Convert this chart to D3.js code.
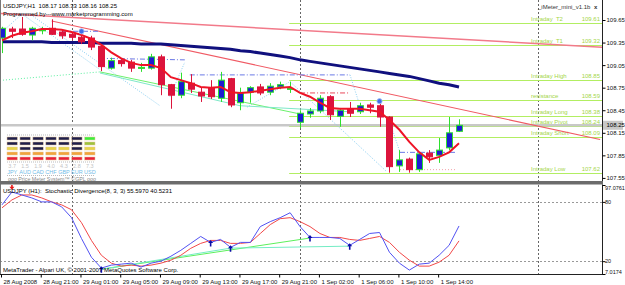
<!DOCTYPE html>
<html>
<head>
<meta charset="utf-8">
<script src="https://cdn.jsdelivr.net/npm/d3@7"></script>
<style>
body { margin: 0; background: #fff; }
svg { display: block; font-family: "Liberation Sans", Arial, sans-serif; }
</style>
</head>
<body>
<div id="chart-area"></div>
<script>

// bar times (H1)
const barTimes = [
	"28 Aug 17:00", "28 Aug 18:00", "28 Aug 19:00", "28 Aug 20:00", "28 Aug 21:00", "28 Aug 22:00", "28 Aug 23:00",
	"29 Aug 00:00", "29 Aug 01:00", "29 Aug 02:00", "29 Aug 03:00", "29 Aug 04:00", "29 Aug 05:00", "29 Aug 06:00",
	"29 Aug 07:00", "29 Aug 08:00", "29 Aug 09:00", "29 Aug 10:00", "29 Aug 11:00", "29 Aug 12:00", "29 Aug 13:00",
	"29 Aug 14:00", "29 Aug 15:00", "29 Aug 16:00", "29 Aug 17:00", "29 Aug 18:00", "29 Aug 19:00", "29 Aug 20:00",
	"29 Aug 21:00", "29 Aug 22:00",
	"1 Sep 00:00", "1 Sep 01:00", "1 Sep 02:00", "1 Sep 03:00", "1 Sep 04:00", "1 Sep 05:00", "1 Sep 06:00",
	"1 Sep 07:00", "1 Sep 08:00", "1 Sep 09:00", "1 Sep 10:00", "1 Sep 11:00", "1 Sep 12:00", "1 Sep 13:00",
	"1 Sep 14:00", "1 Sep 15:00", "1 Sep 16:00"
];

const open = [109.41, 109.53, 109.53, 109.45, 109.51, 109.54, 109.49, 109.46, 109.42, 109.41,
	109.30, 109.01, 109.11, 109.09, 109.01, 109.01, 109.16, 108.79, 108.65, 108.81,
	108.69, 108.75, 108.61, 108.87, 108.55, 108.69, 108.76, 108.69, 108.76, 108.73,
	108.29, 108.40, 108.44, 108.63, 108.37, 108.47, 108.43, 108.52, 108.51, 108.36,
	107.71, 107.80, 107.66, 107.88, 107.85, 107.95, 108.17];
const high = [109.56, 109.56, 109.69, 109.56, 109.56, 109.66, 109.52, 109.49, 109.48, 109.44,
	109.33, 109.15, 109.13, 109.12, 109.08, 109.20, 109.19, 108.80, 108.95, 108.93,
	108.75, 108.85, 108.96, 108.88, 108.75, 108.77, 108.80, 108.81, 108.83, 108.83,
	108.45, 108.48, 108.65, 108.65, 108.48, 108.56, 108.55, 108.55, 108.59, 108.37,
	107.92, 107.82, 107.88, 107.92, 108.08, 108.36, 108.33];
const low = [109.21, 109.41, 109.44, 109.38, 109.46, 109.45, 109.40, 109.38, 109.33, 109.25,
	108.97, 108.99, 109.03, 108.96, 108.96, 108.99, 108.65, 108.47, 108.61, 108.68,
	108.56, 108.60, 108.56, 108.49, 108.45, 108.55, 108.65, 108.65, 108.73, 108.68,
	108.21, 108.35, 108.41, 108.32, 108.23, 108.36, 108.40, 108.41, 108.23, 107.62,
	107.63, 107.62, 107.63, 107.75, 107.75, 107.92, 108.16];
const close = [109.54, 109.50, 109.46, 109.54, 109.52, 109.46, 109.44, 109.42, 109.36, 109.29,
	109.03, 109.11, 109.07, 109.01, 109.02, 109.16, 108.79, 108.65, 108.83, 108.73,
	108.64, 108.63, 108.85, 108.52, 108.68, 108.75, 108.68, 108.77, 108.79, 108.74,
	108.41, 108.44, 108.61, 108.39, 108.45, 108.41, 108.51, 108.49, 108.36, 107.70,
	107.79, 107.66, 107.87, 107.83, 107.92, 108.15, 108.25];

// moving averages
const maFast = [109.38, 109.44, 109.48, 109.50, 109.53, 109.53, 109.52, 109.49, 109.45, 109.40,
	109.32, 109.22, 109.14, 109.08, 109.05, 109.05, 109.01, 108.89, 108.85, 108.81,
	108.76, 108.75, 108.76, 108.69, 108.68, 108.69, 108.71, 108.73, 108.75, 108.76,
	108.68, 108.63, 108.55, 108.48, 108.47, 108.47, 108.47, 108.45, 108.43, 108.32,
	108.19, 108.03, 107.89, 107.79, 107.83, 107.89, 108.01];
const maSlow = [109.36, 109.36, 109.36, 109.36, 109.36, 109.35, 109.35, 109.35, 109.35, 109.35,
	109.34, 109.34, 109.34, 109.34, 109.33, 109.33, 109.33, 109.32, 109.31, 109.30,
	109.29, 109.28, 109.27, 109.26, 109.24, 109.23, 109.21, 109.19, 109.17, 109.15,
	109.12, 109.10, 109.08, 109.06, 109.04, 109.02, 109.00, 108.98, 108.96, 108.94,
	108.92, 108.90, 108.87, 108.84, 108.81, 108.79, 108.76];

// stochastic divergence (8,3,3)
const stochMain = [77, 90, 87, 84, 80, 80, 75, 64, 43, 24,
	13, 16, 17, 18, 14, 18, 20, 25, 31, 38,
	45, 39, 42, 34, 39, 39, 55, 60, 64, 69,
	55, 44, 44, 44, 43, 36, 42, 48, 49, 29,
	18, 11, 17, 18, 26, 36, 55.597];
const stochSignal = [74, 82, 87, 87, 84, 80, 77, 72, 59, 41,
	26, 18, 15, 16, 15, 16, 18, 21, 26, 33,
	38, 41, 41, 38, 38, 39, 48, 57, 63, 64,
	60, 55, 48, 44, 44, 42, 41, 43, 45, 39,
	29, 21, 15, 15, 19, 26, 40.5231];

// axis ticks
const priceTicks = [109.65, 109.35, 109.05, 108.75, 108.45, 108.15, 107.85, 107.55];
const stochTicks = [97.0761, 80, 20, 7.0174];
const stochTickLabels = ["97.0761", "80", "20", "7.0174"];
const tickBars = ["28 Aug 17:00", "28 Aug 21:00", "29 Aug 01:00", "29 Aug 05:00", "29 Aug 09:00", "29 Aug 13:00",
	"29 Aug 17:00", "29 Aug 21:00", "1 Sep 02:00", "1 Sep 06:00", "1 Sep 10:00", "1 Sep 14:00"];
const tickLabels = ["28 Aug 2008", "28 Aug 21:00", "29 Aug 01:00", "29 Aug 05:00", "29 Aug 09:00", "29 Aug 13:00",
	"29 Aug 17:00", "29 Aug 21:00", "1 Sep 02:00", "1 Sep 06:00", "1 Sep 10:00", "1 Sep 14:00"];
const daySeparators = [7, 30, 54];   // bar index (54 = 2 Sep 00:00, future)

// iMeter levels
const levelNames = ["Intraday  T2", "Intraday  T1", "Intraday High", "resistance",
	"Intraday Long", "Intraday Pivot", "Intraday Short", "Intraday Low"];
const levelValues = [109.61, 109.32, 108.85, 108.59, 108.38, 108.24, 108.09, 107.62];
const levelStart = 28.9;

// drawn objects: [bar index, price]
const trendLines = [
	[[-0.2, 109.736], [60.4, 109.288]],
	[[5, 109.637], [60.2, 108.061]]
];
const zigzagDotted = [
	[[0, 109.49], [2.01, 109.73], [9.86, 108.99]],
	[[3.12, 109.70], [15.9, 108.51]],
	[[16.9, 108.63], [18.4, 109.09]],
	[[24.66, 108.49], [28.99, 108.83], [38.75, 107.63]],
	[[35.03, 108.92], [35.83, 108.59]],
	[[38.85, 108.37], [40.06, 107.89]]
];
const blueDashDot = [
	[[6.14, 109.50], [9.86, 109.50]],
	[[9.86, 109.14], [18.4, 109.12]],
	[[18.9, 108.92], [35.03, 108.92]],
	[[40.06, 107.89], [45.8, 107.89]]
];
const redDashDot = [[[30, 108.68], [35.03, 108.68]]];
const pinkDotted = [[[40.06, 107.66], [45.8, 107.66]]];
const greenDotted = [[[0.1, 108.85], [9.86, 108.96]]];
const priceDivLime = [[9.86, 108.96], [30, 108.40]];
const priceDivAqua = [[9.86, 108.945], [23.96, 108.51], [35.03, 108.43]];
const fractalBars = [8, 38];
const fractalPrices = [109.50, 108.57];

// stochastic divergence objects: [bar index, value]
const stochDivLime = [[10, 11.8], [31, 43.4]];
const stochDivAqua = [[10, 11.8], [23, 33.2], [35, 35.2]];
const bullArrowBars = [10, 21, 23, 31, 35];
const bullArrowValues = [11.8, 38.3, 33.2, 43.4, 35.2];
const bearArrowBars = [1];
const bearArrowValues = [95.3];

// price meter widget
const meterCurrencies = ["JPY", "AUD", "CAD", "CHF", "GBP", "EUR", "USD"];
const meterStrength = ["3.7", "1.5", "1.9", "4.0", "4.3", "2.8", "7.3"];
const meterLit = [3, 2, 2, 3, 3, 2, 5];


const svg = d3.select('#chart-area').append('svg')
	.attr('width', 625)
	.attr('height', 285);

const x = d3.scaleLinear().domain([0, 60]).range([2, 2 + 60 * 9.935]);
const y = d3.scaleLinear().domain([107.509, 109.916]).range([181, 0]);
const ys = d3.scaleLinear().domain([7.0174, 97.0761]).range([274, 185]);

const defs = svg.append('defs');
defs.append('clipPath').attr('id', 'clipMain').append('rect')
	.attr('x', 1).attr('y', 0).attr('width', 601).attr('height', 181);
defs.append('clipPath').attr('id', 'clipSub').append('rect')
	.attr('x', 1).attr('y', 185).attr('width', 601).attr('height', 89);

const g = svg.append('g').attr('clip-path', 'url(#clipMain)');
const gs = svg.append('g').attr('clip-path', 'url(#clipSub)');

const line = d3.line().x(d => x(d[0])).y(d => y(d[1]));
const sline = d3.line().x(d => x(d[0])).y(d => ys(d[1]));

// day separators, both panels
[[g, 0, 181], [gs, 185, 274]].forEach(([grp, y0, y1]) => {
	grp.selectAll(null).data(daySeparators).enter().append('line')
		.attr('x1', d => Math.round(x(d)) + 0.5).attr('x2', d => Math.round(x(d)) + 0.5)
		.attr('y1', y0).attr('y2', y1)
		.attr('stroke', '#666').attr('stroke-dasharray', '2,2');
});

// price meter widget (drawn first, under everything)
const mx = d3.scaleBand().domain(meterCurrencies).range([7, 95]).paddingInner(0.2);
const rowColors = ['#3cf03c', '#9cc23e', '#e6d44a', '#f0a43c', '#e8203a'];
meterCurrencies.forEach((c, i) => {
	rowColors.forEach((col, r) => {
		let lit = (4 - r) < meterLit[i];
		g.append('rect')
			.attr('x', mx(c)).attr('y', 137 + r * 5)
			.attr('width', mx.bandwidth()).attr('height', 3)
			.attr('fill', lit ? col : '#1e1e4c')
			.attr('stroke', '#e8c89a').attr('stroke-width', 0.5);
	});
});
[135, 162, 175.5].forEach(yy => {
	g.append('line').attr('x1', 7).attr('x2', 95).attr('y1', yy).attr('y2', yy)
		.attr('stroke', '#bbb').attr('stroke-dasharray', '1,1');
});
g.selectAll('.meter-num').data(meterStrength).enter().append('text')
	.attr('x', (d, i) => mx(meterCurrencies[i]) + mx.bandwidth() / 2)
	.attr('y', 167.5).attr('text-anchor', 'middle')
	.attr('font-size', '5.5px').attr('fill', '#c4c4c4').text(d => d);
g.selectAll('.meter-cur').data(meterCurrencies).enter().append('text')
	.attr('x', d => mx(d) + mx.bandwidth() / 2)
	.attr('y', 173.8).attr('text-anchor', 'middle')
	.attr('font-size', '5.5px').attr('fill', '#72bde8').text(d => d);
g.append('text').attr('x', 8).attr('y', 180.5)
	.attr('font-size', '5.3px').attr('fill', '#888')
	.text('ooo Price Meter System\u2122 \u00a9GPL ooo');

// intraday levels
g.selectAll('.lvl').data(levelValues).enter().append('line')
	.attr('x1', x(levelStart)).attr('x2', 602)
	.attr('y1', d => Math.round(y(d)) + 0.5).attr('y2', d => Math.round(y(d)) + 0.5)
	.attr('stroke', '#b2ee62').attr('stroke-width', 1.2);
g.selectAll('.lvl-name').data(levelNames).enter().append('text')
	.attr('x', 531).attr('y', (d, i) => y(levelValues[i]) - 2)
	.attr('font-size', '6px').attr('fill', '#a4d64a')
	.style('white-space', 'pre').text(d => d);
g.selectAll('.lvl-val').data(levelValues).enter().append('text')
	.attr('x', 600).attr('y', d => y(d) - 2).attr('text-anchor', 'end')
	.attr('font-size', '6px').attr('fill', '#a4d64a').text(d => d.toFixed(2));

// current price line
g.append('line')
	.attr('x1', 0).attr('x2', 602)
	.attr('y1', y(close[close.length - 1])).attr('y2', y(close[close.length - 1]))
	.attr('stroke', '#c8c8c8').attr('stroke-width', 2.5);

// trend lines
g.selectAll('.trend').data(trendLines).enter().append('path')
	.attr('d', line).attr('fill', 'none')
	.attr('stroke', (d, i) => i === 0 ? '#f27a8a' : '#f05a64')
	.attr('stroke-width', (d, i) => i === 0 ? 1.5 : 1.1);

// helper lines
function drawSet(set, color, dash, w) {
	g.selectAll(null).data(set).enter().append('path')
		.attr('d', line).attr('fill', 'none')
		.attr('stroke', color).attr('stroke-width', w)
		.attr('stroke-dasharray', dash);
}
drawSet(zigzagDotted, '#8ccff2', '1,1.5', 1);
drawSet(blueDashDot, '#6a78e6', '5,2,1,2', 1);
drawSet(redDashDot, '#e8485a', '5,2,1,2', 1);
drawSet(pinkDotted, '#f2a0a8', '1,2', 1);
drawSet(greenDotted, '#5cf0a0', '1,2', 1);
drawSet([priceDivLime], '#6cf06c', null, 1);
drawSet([priceDivAqua], '#7ee8c8', null, 1);

// slow MA
g.append('path')
	.attr('d', line(maSlow.map((d, i) => [i, d])))
	.attr('fill', 'none').attr('stroke', '#10107e').attr('stroke-width', 3);

// candles
const candles = g.selectAll('.candle').data(barTimes).enter().append('g');
candles.append('line')
	.attr('x1', (d, i) => Math.round(x(i)) + 0.5).attr('x2', (d, i) => Math.round(x(i)) + 0.5)
	.attr('y1', (d, i) => y(high[i])).attr('y2', (d, i) => y(low[i]))
	.attr('stroke', (d, i) => close[i] >= open[i] ? '#2ee02e' : '#dc143c');
candles.append('rect')
	.attr('x', (d, i) => Math.round(x(i)) - 2.5)
	.attr('y', (d, i) => y(Math.max(open[i], close[i])))
	.attr('width', 6)
	.attr('height', (d, i) => Math.max(1, Math.abs(y(open[i]) - y(close[i]))))
	.attr('fill', (d, i) => close[i] >= open[i] ? '#1c1cd0' : '#dc143c')
	.attr('stroke', (d, i) => close[i] >= open[i] ? '#2ee02e' : '#dc143c')
	.attr('stroke-width', 1);

// fast MA
g.append('path')
	.attr('d', line(maFast.map((d, i) => [i, d])))
	.attr('fill', 'none').attr('stroke', '#ee1426').attr('stroke-width', 2);

// fractal markers
g.selectAll('.fractal').data(fractalBars).enter().append('circle')
	.attr('cx', d => x(d)).attr('cy', (d, i) => y(fractalPrices[i]))
	.attr('r', 2.6).attr('fill', '#3f6ee8').attr('stroke', '#a8c4f4').attr('stroke-width', 0.8);

// titles, main window
svg.append('text').attr('x', 3).attr('y', 7.5).attr('font-size', '6px')
	.style('white-space', 'pre')
	.text('USDJPY,H1  ' + [open, high, low, close].map(s => s[s.length - 1].toFixed(2)).join(' '));
svg.append('text').attr('x', 3).attr('y', 15.5).attr('font-size', '6px')
	.text('Programmed by---www.marketprogramming.com');
svg.append('text').attr('x', 538).attr('y', 9).attr('font-size', '6px').attr('fill', '#333')
	.text('_iMeter_mini_v1.1b');
svg.append('text').attr('x', 594).attr('y', 9).attr('font-size', '6px').attr('font-weight', 'bold')
	.attr('fill', '#333').text('x');

// stochastic panel
gs.selectAll('.lvl20').data([80, 20]).enter().append('line')
	.attr('x1', 0).attr('x2', 602)
	.attr('y1', d => Math.round(ys(d)) + 0.5).attr('y2', d => Math.round(ys(d)) + 0.5)
	.attr('stroke', '#999').attr('stroke-dasharray', '2,2');
gs.append('path').attr('d', sline(stochDivLime)).attr('fill', 'none')
	.attr('stroke', '#5cf05c').attr('stroke-width', 1);
gs.append('path').attr('d', sline(stochDivAqua)).attr('fill', 'none')
	.attr('stroke', '#74ecc4').attr('stroke-width', 1);
gs.append('path').attr('d', sline(stochSignal.map((d, i) => [i, d])))
	.attr('fill', 'none').attr('stroke', '#f24848').attr('stroke-width', 1);
gs.append('path').attr('d', sline(stochMain.map((d, i) => [i, d])))
	.attr('fill', 'none').attr('stroke', '#5252f2').attr('stroke-width', 1);
gs.selectAll('.bull').data(bullArrowBars).enter().append('path')
	.attr('transform', (d, i) => 'translate(' + x(d) + ',' + ys(bullArrowValues[i]) + ')')
	.attr('d', 'M0,-3L2.5,0H0.8V3.5H-0.8V0H-2.5Z')
	.attr('fill', '#0c0ca8');
gs.selectAll('.bear').data(bearArrowBars).enter().append('path')
	.attr('transform', (d, i) => 'translate(' + x(d) + ',' + ys(bearArrowValues[i]) + ')')
	.attr('d', 'M0,3L2.5,0H0.8V-3.5H-0.8V0H-2.5Z')
	.attr('fill', '#e81818');

svg.append('text').attr('x', 3).attr('y', 192.5).attr('font-size', '6px')
	.style('white-space', 'pre')
	.text('USDJPY (H1):  Stochastic Divergence(8, 3, 3) ' + stochMain[stochMain.length - 1].toFixed(4)
		+ ' ' + stochSignal[stochSignal.length - 1].toFixed(4));
svg.append('text').attr('x', 3).attr('y', 271.5).attr('font-size', '6px')
	.text('MetaTrader - Alpari UK, \u00a9 2001-2007 MetaQuotes Software Corp.');

// frames
svg.append('line').attr('x1', 0.5).attr('x2', 0.5).attr('y1', 0).attr('y2', 274)
	.attr('stroke', '#777');
svg.append('rect').attr('x', 0).attr('y', 181).attr('width', 603).attr('height', 3.5)
	.attr('fill', '#6c6c6c');
svg.append('line').attr('x1', 0).attr('x2', 603).attr('y1', 274.5).attr('y2', 274.5)
	.attr('stroke', '#222');

// price axis
let yAxisCall = d3.axisRight(y).tickValues(priceTicks).tickSize(3).tickSizeOuter(0)
	.tickFormat(d => d.toFixed(2));
let yAxis = svg.append('g').attr('transform', 'translate(602.5, 0)').call(yAxisCall);
yAxis.select('.domain').attr('d', 'M0,0V181').attr('stroke', '#222');
yAxis.selectAll('text').attr('font-size', '6px').attr('x', 4).attr('fill', '#111')
	.style('font-family', '"Liberation Sans", Arial, sans-serif');

// current price label
let cp = close[close.length - 1];
svg.append('rect').attr('x', 603).attr('y', y(cp) - 4.5).attr('width', 20).attr('height', 9)
	.attr('fill', '#c8c8c8');
svg.append('text').attr('x', 606.5).attr('y', y(cp) + 2).attr('font-size', '6px')
	.text(cp.toFixed(2));

// stochastic axis
let sAxisCall = d3.axisRight(ys).tickValues(stochTicks).tickSize(3).tickSizeOuter(0)
	.tickFormat((d, i) => stochTickLabels[i]);
let sAxis = svg.append('g').attr('transform', 'translate(602.5, 0)').call(sAxisCall);
sAxis.select('.domain').attr('d', 'M0,184.5V274.5').attr('stroke', '#222');
sAxis.selectAll('text').attr('font-size', '5.5px').attr('x', 2.5).attr('fill', '#111')
	.style('font-family', '"Liberation Sans", Arial, sans-serif')
	.attr('dy', (d, i) => i === 0 ? '0.9em' : (i === 3 ? '-0.1em' : '0.32em'));

// time axis
let xAxisCall = d3.axisBottom(x).tickValues(tickBars.map(t => barTimes.indexOf(t)))
	.tickSize(3).tickSizeOuter(0)
	.tickFormat((d, i) => tickLabels[i]);
let xAxis = svg.append('g').attr('transform', 'translate(-1, 274.5)').call(xAxisCall);
xAxis.select('.domain').remove();
xAxis.selectAll('text').attr('font-size', '6px').attr('text-anchor', 'start')
	.attr('x', 2).attr('y', 5).attr('fill', '#111')
	.style('font-family', '"Liberation Sans", Arial, sans-serif');

</script>
</body>
</html>
